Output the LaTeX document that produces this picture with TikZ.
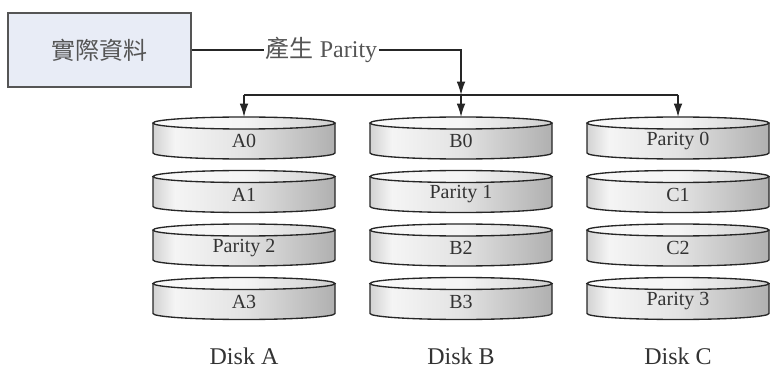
\documentclass[tikz,border=0pt]{standalone}
\usepackage{fontspec}
\setmainfont{Liberation Serif}
\newfontfamily\cjkfont{Noto Sans CJK TC}
\usepackage{xcolor}
\usetikzlibrary{arrows.meta}

\definecolor{boxfill}{HTML}{E8ECF6}
\definecolor{boxline}{HTML}{555555}
\definecolor{inkgray}{HTML}{333333}
\pgfdeclarehorizontalshading{diskbody}{100bp}{color(0bp)=(gray!35); color(25bp)=(gray!35);
  color(31bp)=(gray!8); color(50bp)=(gray!22); color(75bp)=(gray!62); color(100bp)=(gray!62)}
\pgfdeclarehorizontalshading{disktop}{100bp}{color(0bp)=(gray!4); color(25bp)=(gray!4);
  color(50bp)=(gray!8); color(75bp)=(gray!38); color(100bp)=(gray!38)}

% one disk slice: name, centre x, y of top ellipse, text
\newcommand{\raidslice}[4]{%
  \shade[shading=diskbody] (#2-91,#3) -- (#2-91,#3-30)
    arc[start angle=180,end angle=360,x radius=91,y radius=6] -- (#2+91,#3) -- cycle;
  \shade[shading=disktop] (#2,#3) ellipse[x radius=91,y radius=6];
  \draw[diskline] (#2-91,#3) -- (#2-91,#3-30)
    arc[start angle=180,end angle=360,x radius=91,y radius=6] -- (#2+91,#3);
  \draw[diskline] (#2,#3) ellipse[x radius=91,y radius=6];
  \coordinate (#1top) at (#2,#3+6);
  \node[disktext] (#1) at (#2,#3-18) {#4};
}

\begin{document}
\begin{tikzpicture}[x=0.75pt,y=0.75pt,
  diskline/.style={draw=black!85,line width=1pt},
  disktext/.style={text=inkgray,font=\fontsize{15}{17}\selectfont},
  link/.style={draw=black!85,line width=1.1pt},
  tip/.style={-{Latex[length=10pt,width=6.5pt]}},
  disklabel/.style={anchor=base,inner sep=0pt,text=inkgray,font=\fontsize{18}{20}\selectfont}]
  \useasboundingbox (0,0) rectangle (770,368);

  % source data
  \node[draw=boxline,line width=1.8pt,fill=boxfill,minimum width=183*0.75pt,
    minimum height=74*0.75pt,text=boxline,font=\cjkfont\fontsize{18}{20}\selectfont]
    (data) at (99.5,318) {實際資料};
  \node[fill=white,inner sep=1pt,text=boxline,font=\fontsize{18}{20}\selectfont]
    (gen) at (321.5,318) {{\cjkfont 產生} Parity};
  \coordinate (turn) at (461,318);
  \coordinate (busb) at (461,273);
  \coordinate (busa) at (244,273);
  \coordinate (busc) at (678,273);

  % disk A
  \raidslice{a0}{244}{245}{A0}
  \raidslice{a1}{244}{191.5}{A1}
  \raidslice{a2}{244}{138}{Parity 2}
  \raidslice{a3}{244}{84.5}{A3}
  % disk B
  \raidslice{b0}{461}{245}{B0}
  \raidslice{b1}{461}{191.5}{Parity 1}
  \raidslice{b2}{461}{138}{B2}
  \raidslice{b3}{461}{84.5}{B3}
  % disk C
  \raidslice{c0}{678}{245}{Parity 0}
  \raidslice{c1}{678}{191.5}{C1}
  \raidslice{c2}{678}{138}{C2}
  \raidslice{c3}{678}{84.5}{Parity 3}

  % connectors
  \draw[link] (data.east) -- (gen.west);
  \draw[link,tip] (gen.east) -- (turn) -- (busb);
  \draw[link] (busa) -- (busc);
  \draw[link,tip] (busa) -- (a0top);
  \draw[link,tip] (busb) -- (b0top);
  \draw[link,tip] (busc) -- (c0top);

  \node[disklabel] (diska) at (244,4) {Disk A};
  \node[disklabel] (diskb) at (461,4) {Disk B};
  \node[disklabel] (diskc) at (678,4) {Disk C};
\end{tikzpicture}
\end{document}
